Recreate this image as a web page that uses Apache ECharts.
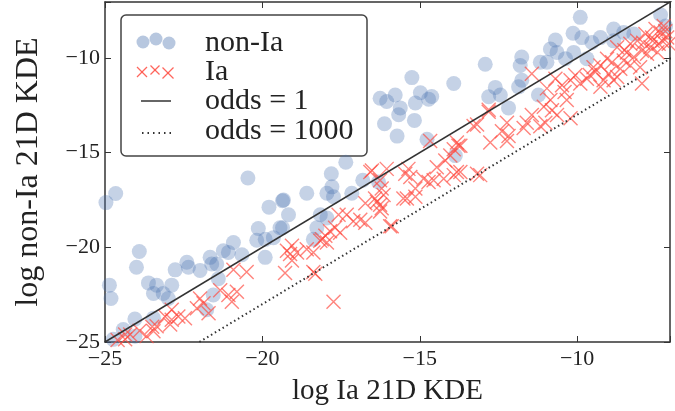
<!DOCTYPE html>
<html lang="en">
<head>
  <meta charset="UTF-8">
  <title>KDE odds</title>
  <script src="https://cdn.jsdelivr.net/npm/echarts@6/dist/echarts.min.js"></script>
  <style>
    html, body { margin: 0; padding: 0; background: #fff; }
    #main { width: 675px; height: 411px; }
  </style>
</head>
<body>
<div id="main"></div>
<script>
  // non-Ia points [log Ia KDE, log non-Ia KDE]
  var nonIa = [
    [-20.46,-16.34],[-24.66,-17.16],[-24.97,-17.64],[-19.79,-17.88],[-19.36,-17.54],[-19.17,-18.28],
    [-20.13,-19.01],[-19.36,-18.97],[-20.18,-19.63],[-19.91,-19.58],[-19.65,-19.49],[-20.92,-19.75],
    [-21.24,-20.18],[-21.08,-20.27],[-20.65,-20.39],[-19.91,-20.53],[-23.91,-20.22],[-24.0,-21.05],
    [-22.77,-21.19],[-22.40,-20.79],[-22.35,-21.05],[-21.98,-21.22],[-21.66,-20.53],[-21.61,-20.88],
    [-21.45,-20.88],[-21.40,-21.66],[-23.62,-21.88],[-23.36,-22.0],[-22.88,-22.0],[-23.46,-22.44],
    [-23.15,-22.44],[-24.86,-22.0],[-24.81,-22.70],[-22.99,-22.70],[-21.56,-22.52],[-24.05,-23.79],
    [-23.46,-23.74],[-21.77,-23.30],[-24.42,-24.34],[-24.05,-24.69],[-24.74,-24.86],
    [-15.67,-13.0],[-15.17,-13.30],[-16.12,-13.48],[-15.72,-14.13],[-14.77,-14.30],[-17.35,-15.51],
    [-17.81,-16.12],[-17.79,-16.81],[-16.81,-16.46],[-18.59,-17.15],[-17.95,-17.15],[-17.74,-17.33],
    [-17.16,-17.15],[-19.33,-17.50],[-18.16,-18.28],[-17.95,-18.45],[-19.44,-18.97],[-18.27,-18.97],
    [-18.38,-19.58],[-16.31,-16.55],[-13.87,-15.16],
    [-15.25,-11.04],[-13.92,-11.35],[-16.26,-12.13],[-15.78,-11.96],[-14.98,-11.84],[-14.62,-12.04],
    [-16.05,-12.30],[-15.62,-12.64],[-15.14,-12.38],[-14.72,-12.18],
    [-9.90,-7.86],[-10.13,-8.70],[-9.85,-8.93],[-10.69,-9.06],[-10.85,-9.53],[-10.64,-9.71],
    [-10.11,-9.71],[-9.53,-9.19],[-9.26,-8.93],[-8.84,-8.48],[-8.52,-8.66],[-8.20,-8.74],
    [-8.84,-9.10],[-7.35,-7.72],[-7.19,-8.32],[-9.69,-10.04],[-11.76,-9.96],[-12.92,-10.34],
    [-11.81,-10.40],[-11.17,-10.23],[-10.96,-10.23],[-10.37,-10.04],[-11.76,-11.18],[-11.86,-11.53],
    [-12.60,-11.56],[-12.44,-11.96],[-12.81,-12.05],[-11.23,-11.96],[-12.18,-12.64]
  ];

  // Ia points
  var ia = [
    [-20.92,-21.19],[-20.50,-21.31],[-19.28,-21.36],[-21.34,-22.27],[-21.08,-22.52],[-20.81,-22.35],
    [-20.97,-22.87],[-21.98,-22.70],[-21.87,-22.96],[-22.08,-23.22],[-21.71,-23.48],[-22.88,-23.30],
    [-23.09,-23.65],[-22.88,-23.82],[-22.67,-23.65],[-22.46,-23.74],[-22.93,-24.08],[-23.36,-24.17],
    [-23.46,-24.43],[-23.68,-24.69],[-24.36,-24.60],[-24.36,-24.86],[-24.6,-24.9],[-24.2,-24.6],
    [-23.9,-24.4],[-23.5,-24.2],[-19.22,-20.18],
    [-19.06,-19.92],[-19.12,-20.36],[-18.90,-20.27],[-19.06,-20.70],[-18.59,-20.10],[-18.38,-20.27],
    [-18.11,-19.58],[-17.95,-19.75],[-17.85,-19.15],[-17.69,-18.97],[-17.53,-19.23],[-17.58,-18.28],
    [-17.32,-18.28],[-17.11,-18.63],[-16.89,-18.54],[-16.73,-18.71],[-16.73,-17.68],[-16.36,-17.59],
    [-16.26,-18.11],[-16.15,-17.24],[-16.57,-16.03],[-15.94,-18.89],[-18.32,-21.40],[-17.74,-22.87],
    [-14.67,-14.39],[-13.82,-14.47],[-13.92,-14.82],[-14.03,-15.16],[-14.19,-15.42],[-14.46,-15.77],
    [-13.29,-13.60],[-16.05,-15.86],[-16.52,-15.94],[-15.36,-15.86],[-15.46,-16.12],[-15.30,-16.29],
    [-14.88,-16.38],[-14.56,-16.46],[-14.24,-16.38],[-15.14,-16.90],[-16.26,-16.46],[-16.21,-16.90],
    [-15.52,-17.42],[-15.14,-17.33],[-16.42,-17.42],[-16.26,-17.76],[-16.21,-17.94],[-18.0,-19.39],
    [-18.16,-19.66],[-18.38,-21.31],[-15.89,-18.89],[-15.41,-17.42],[-14.72,-16.55],[-13.92,-16.19],
    [-11.44,-10.84],[-10.69,-11.10],[-10.48,-11.44],[-10.21,-11.18],[-10.06,-10.92],[-9.90,-11.35],
    [-9.69,-11.10],[-9.42,-10.75],[-9.26,-10.40],[-9.05,-10.04],[-8.89,-10.23],[-9.16,-11.18],
    [-8.73,-11.01],[-8.52,-10.14],[-8.42,-9.71],[-8.31,-9.26],[-8.20,-9.96],[-7.94,-9.62],
    [-7.83,-8.74],[-7.62,-8.93],[-7.51,-8.48],[-7.35,-8.66],[-7.25,-8.32],[-7.14,-8.93],
    [-7.09,-9.26],[-7.41,-9.26],[-7.67,-9.44],[-7.94,-11.35],[-10.96,-11.61],[-10.85,-12.23],
    [-11.06,-12.58],[-10.80,-12.76],[-10.64,-13.02],[-10.21,-13.19],[-11.44,-13.02],[-11.60,-13.43],
    [-11.70,-13.70],[-11.17,-13.61],[-11.01,-13.43],[-12.23,-13.43],[-12.39,-13.87],[-12.18,-14.13],
    [-12.76,-14.47],[-12.23,-14.39],[-12.81,-12.84],[-13.18,-13.52],[-13.71,-14.64],[-13.08,-16.19],
    [-13.71,-16.03],[-10.33,-12.23],[-9.48,-10.49],[-9.0,-10.84],[-8.63,-10.58],[-8.31,-10.40],
    [-8.73,-9.44],[-8.09,-9.10],[-12.81,-12.74],[-13.77,-14.64],[-13.82,-16.03],[-13.18,-16.12],
    [-9.26,-11.53],[-8.84,-11.18],[-8.0,-10.49],[-7.78,-9.78],[-7.3,-9.1],[-7.2,-8.6],[-7.6,-9.1],
    [-8.5,-9.6],[-7.9,-9.2],[-7.45,-9.7],[-9.6,-10.9],[-10.4,-11.8]
  ];

  var oddsOneX = [-25, -7];
  var oddsThousandX = [-22, -7];
  var oddsThousandOffset = 3; // log10(1000)
  var axisMin = -25, axisMax = -7.05;
  var tickStep = 5;

  var serif = '"Liberation Serif", "DejaVu Serif", serif';
  function fmt(v) {
    if (Math.abs(v % tickStep) > 1e-6) return '';
    return String(v).replace('-', '\u2212');
  }

  var lineOne = oddsOneX.map(function (x) { return [x, x]; });
  var lineThousand = oddsThousandX.map(function (x) { return [x, x - oddsThousandOffset]; });

  var frame = '#333';
  function axisBase(extra) {
    var a = {
      type: 'value', min: axisMin, max: axisMax, interval: tickStep,
      splitLine: { show: false },
      axisLine: { show: true, onZero: false, lineStyle: { color: frame, width: 1.5 } },
      axisTick: { show: true, inside: true, length: 6, lineStyle: { color: frame, width: 1 } },
      axisLabel: { show: false }
    };
    for (var k in extra) a[k] = extra[k];
    return a;
  }

  // legend drawn by hand (three markers per entry like the original)
  var legendX = 121, legendY = 15;
  var blue = 'rgba(76,114,176,0.4)';
  var red = 'rgba(255,75,65,0.85)';
  function cross(cx, cy, h) {
    return [
      { type: 'line', shape: { x1: cx - h, y1: cy - h, x2: cx + h, y2: cy + h }, style: { stroke: red, lineWidth: 1.3 } },
      { type: 'line', shape: { x1: cx + h, y1: cy - h, x2: cx - h, y2: cy + h }, style: { stroke: red, lineWidth: 1.3 } }
    ];
  }
  function label(y, s) {
    return { type: 'text', x: 84, y: y, style: { text: s, font: '30px ' + serif, fill: '#222', verticalAlign: 'middle' } };
  }
  var legendItems = [
    { type: 'rect', shape: { x: 0, y: 0, width: 246, height: 141, r: 5 },
      style: { fill: 'rgba(255,255,255,0.85)', stroke: '#444', lineWidth: 1.5 } },
    { type: 'circle', shape: { cx: 22, cy: 27, r: 6.5 }, style: { fill: blue } },
    { type: 'circle', shape: { cx: 35, cy: 24, r: 6.5 }, style: { fill: blue } },
    { type: 'circle', shape: { cx: 48, cy: 28, r: 6.5 }, style: { fill: blue } }
  ].concat(cross(21, 57, 5), cross(34, 55, 4.5), cross(47, 58, 5.5)).concat([
    { type: 'line', shape: { x1: 20, y1: 86, x2: 50, y2: 86 }, style: { stroke: '#333', lineWidth: 1.5 } },
    { type: 'line', shape: { x1: 21, y1: 118, x2: 50, y2: 118 }, style: { stroke: '#333', lineWidth: 2, lineDash: [1.5, 4] } },
    label(28, 'non-Ia'), label(57, 'Ia'), label(86, 'odds = 1'), label(116, 'odds = 1000')
  ]);

  var myChart = echarts.init(document.getElementById('main'));
  var option = {
    animation: false,
    grid: { left: 105, right: 5, top: 2, bottom: 65, containLabel: false },
    xAxis: [
      axisBase({
        position: 'bottom',
        name: 'log Ia 21D KDE', nameLocation: 'middle', nameGap: 35,
        nameTextStyle: { fontFamily: serif, fontSize: 29, color: '#222' },
        axisLabel: { show: true, formatter: fmt, fontFamily: serif, fontSize: 22, color: '#222', margin: 6 }
      }),
      axisBase({ position: 'top' })
    ],
    yAxis: [
      axisBase({
        position: 'left',
        name: 'log non-Ia 21D KDE', nameLocation: 'middle', nameGap: 60,
        nameTextStyle: { fontFamily: serif, fontSize: 32, color: '#222' },
        axisLabel: { show: true, formatter: fmt, fontFamily: serif, fontSize: 22, color: '#222', margin: 5 }
      }),
      axisBase({ position: 'right' })
    ],
    series: [
      {
        name: 'non-Ia', type: 'scatter', data: nonIa,
        symbol: 'circle', symbolSize: 15,
        itemStyle: { color: blue }
      },
      {
        name: 'Ia', type: 'scatter', data: ia,
        symbol: 'path://M0,0L10,10M10,0L0,10', symbolSize: 14,
        itemStyle: { color: 'none', borderColor: red, borderWidth: 1.4 }
      },
      {
        name: 'odds = 1', type: 'line', data: lineOne, symbol: 'none',
        lineStyle: { color: '#333', width: 1.5 }
      },
      {
        name: 'odds = 1000', type: 'line', data: lineThousand, symbol: 'none',
        lineStyle: { color: '#333', width: 2, type: [1.5, 3] }
      }
    ],
    graphic: [
      { type: 'group', x: legendX, y: legendY, children: legendItems }
    ]
  };
  myChart.setOption(option);
</script>
</body>
</html>
